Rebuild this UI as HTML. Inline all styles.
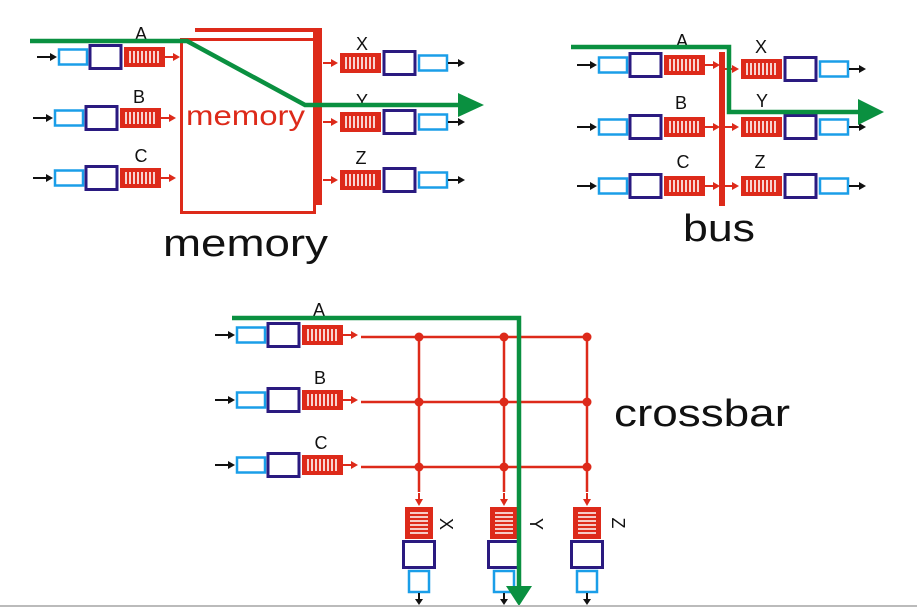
<!DOCTYPE html>
<html><head><meta charset="utf-8"><style>
html,body{margin:0;padding:0;background:#fff;}
svg{display:block;}
text{font-family:"Liberation Sans",Arial,sans-serif;}
</style></head><body>
<svg width="917" height="609" viewBox="0 0 917 609" xmlns="http://www.w3.org/2000/svg">
<defs>
 <g id="q">
  <rect x="0" y="-10" width="41" height="20" fill="#dd2a1a"/>
  <g stroke="#fff" stroke-width="1.6">
   <line x1="6" y1="-6" x2="6" y2="6"/><line x1="10" y1="-6" x2="10" y2="6"/><line x1="14" y1="-6" x2="14" y2="6"/>
   <line x1="18" y1="-6" x2="18" y2="6"/><line x1="22" y1="-6" x2="22" y2="6"/><line x1="26" y1="-6" x2="26" y2="6"/>
   <line x1="30" y1="-6" x2="30" y2="6"/><line x1="34" y1="-6" x2="34" y2="6"/>
  </g>
 </g>
 <g id="in">
  <line x1="0" y1="0" x2="14" y2="0" stroke="#111" stroke-width="2"/>
  <polygon points="13,-4 20,0 13,4" fill="#111"/>
  <rect x="22" y="-7.5" width="28" height="15" fill="#fff" stroke="#1a9ee8" stroke-width="2.5"/>
  <rect x="53" y="-11.5" width="31" height="23" fill="#fff" stroke="#2a1a80" stroke-width="3"/>
  <use href="#q" x="87" y="0"/>
  <line x1="128" y1="0" x2="137" y2="0" stroke="#dd2a1a" stroke-width="2"/>
  <polygon points="136,-4 143,0 136,4" fill="#dd2a1a"/>
 </g>
 <g id="out">
  <line x1="0" y1="0" x2="9" y2="0" stroke="#dd2a1a" stroke-width="2"/>
  <polygon points="8,-4 15,0 8,4" fill="#dd2a1a"/>
  <use href="#q" x="17" y="0"/>
  <rect x="61" y="-11.5" width="31" height="23" fill="#fff" stroke="#2a1a80" stroke-width="3"/>
  <rect x="96" y="-7.5" width="28" height="15" fill="#fff" stroke="#1a9ee8" stroke-width="2.5"/>
  <line x1="125" y1="0" x2="136" y2="0" stroke="#111" stroke-width="2"/>
  <polygon points="135,-4 142,0 135,4" fill="#111"/>
 </g>
 <g id="vq">
  <rect x="0" y="0" width="28" height="32" fill="#dd2a1a"/>
  <g stroke="#fff" stroke-width="1.6">
   <line x1="5" y1="6" x2="23" y2="6"/><line x1="5" y1="10" x2="23" y2="10"/><line x1="5" y1="14" x2="23" y2="14"/>
   <line x1="5" y1="18" x2="23" y2="18"/><line x1="5" y1="22" x2="23" y2="22"/><line x1="5" y1="26" x2="23" y2="26"/>
  </g>
 </g>
 <g id="vout">
  <line x1="0" y1="-10" x2="0" y2="-3" stroke="#dd2a1a" stroke-width="2"/>
  <polygon points="-4,-4 4,-4 0,3" fill="#dd2a1a"/>
  <use href="#vq" x="-14" y="4"/>
  <rect x="-15.5" y="38.5" width="31" height="26" fill="#fff" stroke="#2a1a80" stroke-width="3"/>
  <rect x="-10" y="68" width="20" height="21" fill="#fff" stroke="#1a9ee8" stroke-width="2.5"/>
  <line x1="0" y1="90" x2="0" y2="97" stroke="#111" stroke-width="2"/>
  <polygon points="-4,96 4,96 0,102" fill="#111"/>
 </g>
</defs>

<!-- MEMORY -->
<rect x="181.5" y="39.5" width="133" height="173" fill="#fff" stroke="#dd2a1a" stroke-width="3"/>
<rect x="195" y="28" width="127" height="4" fill="#dd2a1a"/>
<rect x="313" y="28" width="9" height="177" fill="#dd2a1a"/>
<text x="186" y="125" font-size="28" fill="#dd2a1a" textLength="119" lengthAdjust="spacingAndGlyphs">memory</text>
<use href="#in" x="37" y="57"/>
<use href="#in" x="33" y="118"/>
<use href="#in" x="33" y="178"/>
<use href="#out" x="323" y="63"/>
<use href="#out" x="323" y="122"/>
<use href="#out" x="323" y="180"/>
<g font-size="18" fill="#111" text-anchor="middle">
<text x="141" y="40">A</text><text x="139" y="103">B</text><text x="141" y="162">C</text>
<text x="362" y="50">X</text><text x="362" y="107">Y</text><text x="361" y="164">Z</text>
</g>
<polyline points="30,41 187,41 305,105 468,105" fill="none" stroke="#0a9040" stroke-width="4.5"/>
<polygon points="458,93 484,105 458,117" fill="#0a9040"/>
<text x="163" y="256" font-size="38" fill="#111" textLength="165" lengthAdjust="spacingAndGlyphs">memory</text>

<!-- BUS -->
<rect x="719" y="52" width="6" height="154" fill="#dd2a1a"/>
<use href="#in" x="577" y="65"/>
<use href="#in" x="577" y="127"/>
<use href="#in" x="577" y="186"/>
<use href="#out" x="724" y="69"/>
<use href="#out" x="724" y="127"/>
<use href="#out" x="724" y="186"/>
<g font-size="18" fill="#111" text-anchor="middle">
<text x="682" y="47">A</text><text x="681" y="109">B</text><text x="683" y="168">C</text>
<text x="761" y="53">X</text><text x="762" y="107">Y</text><text x="760" y="168">Z</text>
</g>
<polyline points="571,47 729,47 729,112 866,112" fill="none" stroke="#0a9040" stroke-width="4.5"/>
<polygon points="858,99 884,112 858,125" fill="#0a9040"/>
<text x="683" y="241" font-size="38" fill="#111" textLength="72" lengthAdjust="spacingAndGlyphs">bus</text>

<!-- CROSSBAR -->
<use href="#in" x="215" y="335"/>
<use href="#in" x="215" y="400"/>
<use href="#in" x="215" y="465"/>
<g stroke="#dd2a1a" stroke-width="2.5">
<line x1="361" y1="337" x2="588" y2="337"/>
<line x1="361" y1="402" x2="588" y2="402"/>
<line x1="361" y1="467" x2="588" y2="467"/>
<line x1="419" y1="337" x2="419" y2="492"/>
<line x1="504" y1="337" x2="504" y2="492"/>
<line x1="587" y1="337" x2="587" y2="492"/>
</g>
<g fill="#dd2a1a">
<circle cx="419" cy="337" r="4.5"/><circle cx="504" cy="337" r="4.5"/><circle cx="587" cy="337" r="4.5"/>
<circle cx="419" cy="402" r="4.5"/><circle cx="504" cy="402" r="4.5"/><circle cx="587" cy="402" r="4.5"/>
<circle cx="419" cy="467" r="4.5"/><circle cx="504" cy="467" r="4.5"/><circle cx="587" cy="467" r="4.5"/>
</g>
<use href="#vout" x="419" y="503"/>
<use href="#vout" x="504" y="503"/>
<use href="#vout" x="587" y="503"/>
<g font-size="18" fill="#111" text-anchor="middle">
<text x="319" y="316">A</text><text x="320" y="384">B</text><text x="321" y="449">C</text>
<text transform="translate(440,524) rotate(90)">X</text>
<text transform="translate(530,524) rotate(90)">Y</text>
<text transform="translate(612,523) rotate(90)">Z</text>
</g>
<polyline points="232,318 519,318 519,590" fill="none" stroke="#0a9040" stroke-width="4.5"/>
<polygon points="506,586 532,586 519,606" fill="#0a9040"/>
<text x="614" y="426" font-size="38" fill="#111" textLength="176" lengthAdjust="spacingAndGlyphs">crossbar</text>
<line x1="0" y1="606" x2="917" y2="606" stroke="#bbb" stroke-width="2"/>
</svg>
</body></html>
